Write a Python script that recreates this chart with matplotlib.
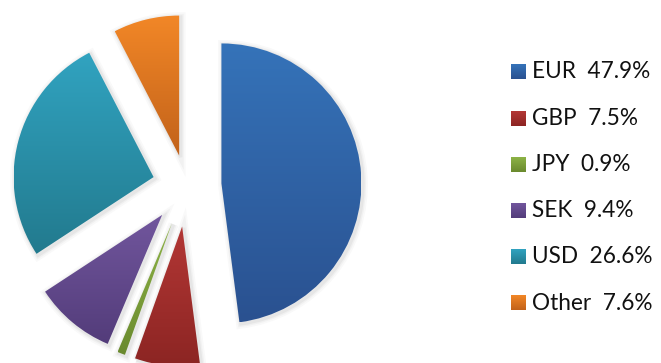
import numpy as np
import matplotlib.pyplot as plt
from matplotlib.colors import to_rgb
from matplotlib.patches import Wedge

labels = ['EUR', 'GBP', 'JPY', 'SEK', 'USD', 'Other']
shares = [47.9, 7.5, 0.9, 9.4, 26.6, 7.6]
# how far each slice is pulled out of the pie, in pixels
explode = [35, 41, 40, 38, 34, 31]

top_colors = ['#3573B9', '#B33735', '#8DB346', '#71569D', '#31A3C0', '#F28727']
bottom_colors = ['#2A5190', '#8C2523', '#6A8A2E', '#533C7A', '#227A8E', '#C2621A']


def gradient(top, bottom, n=128):
    t = np.linspace(0, 1, n)[:, None]
    a, b = np.array(to_rgb(top)), np.array(to_rgb(bottom))
    return (a * (1 - t) + b * t)[:, None, :]


fig = plt.figure(figsize=(6.61, 3.63), dpi=100)
ax = fig.add_axes([0, 0, 1, 1])

wedges, _ = ax.pie(shares, explode=explode, center=(186.5, 177.3), radius=140,
                   startangle=90, counterclock=False, frame=True)

for w, c_top, c_bot in zip(wedges, top_colors, bottom_colors):
    # soft grey shadow around each slice
    for lw, alpha in [(7, 0.06), (4.5, 0.08), (2.5, 0.12)]:
        sh = Wedge((w.center[0] + 1.5, w.center[1] - 1.5), w.r, w.theta1, w.theta2,
                   facecolor='none', edgecolor='#9a9a9a', lw=lw, alpha=alpha, zorder=1)
        ax.add_patch(sh)
    w.set_facecolor('none')
    w.set_edgecolor('none')
    w.set_zorder(2)
    bb = w.get_path().get_extents(w.get_patch_transform())
    im = ax.imshow(gradient(c_top, c_bot), extent=(bb.x0, bb.x1, bb.y0, bb.y1),
                   origin='upper', aspect='auto', interpolation='bilinear', zorder=2)
    im.set_clip_path(w)

# legend
row_y = 291
for lab, val, c_top, c_bot in zip(labels, shares, top_colors, bottom_colors):
    ax.imshow(gradient(c_top, c_bot), extent=(511, 526, row_y - 7.5, row_y + 7.5),
              origin='upper', aspect='auto', interpolation='bilinear', zorder=3)
    ax.text(531.5, row_y, f'{lab}  {val}%', fontsize=16.3, family='Lato',
            va='center', ha='left', color='#111111')
    row_y -= 46.2

ax.set_xlim(0, 661)
ax.set_ylim(0, 363)
ax.set_aspect('equal')
ax.axis('off')

fig.savefig('out.png', dpi=100)
